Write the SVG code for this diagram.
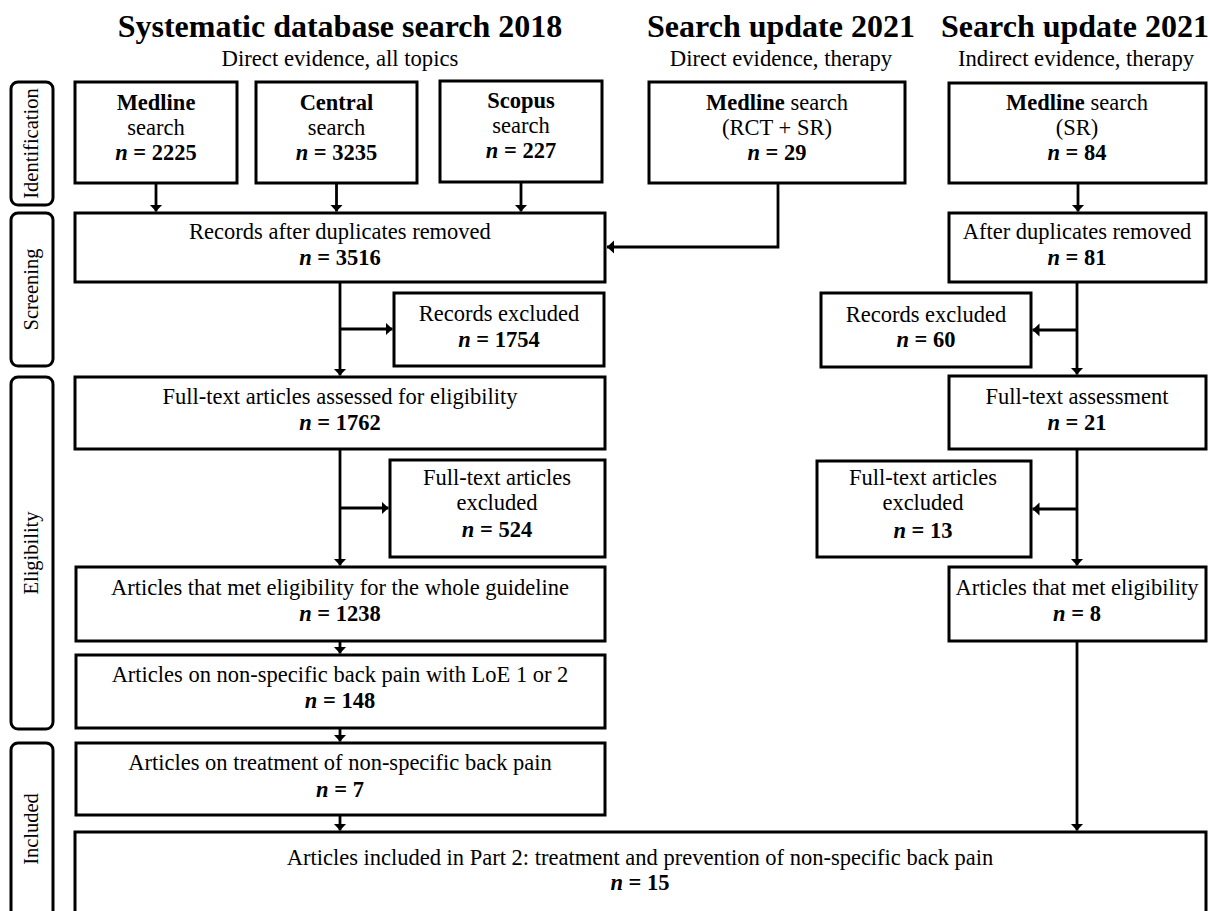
<svg xmlns="http://www.w3.org/2000/svg" width="1210" height="911" viewBox="0 0 1210 911">
<style>
text{font-family:"Liberation Serif","Times New Roman",serif;fill:#000;text-anchor:middle}
.t{font-size:32px;font-weight:bold}
.st{font-size:22.7px}
.b{font-size:22.5px}
.bd{font-weight:bold}
.i{font-style:italic}
.side{font-size:20.5px}
.box{fill:#fff;stroke:#000;stroke-width:3}
.sbox{fill:#fff;stroke:#000;stroke-width:3}
.c{fill:none;stroke:#000;stroke-width:2.8;marker-end:url(#ah)}
</style>
<defs>
<marker id="ah" markerUnits="userSpaceOnUse" markerWidth="8" markerHeight="14" refX="7" refY="6.5" orient="auto">
<path d="M0,0 L7,6.5 L0,13 z" fill="#000"/>
</marker>
</defs>
<rect width="1210" height="911" fill="#fff"/>

<g id="headers">
<text class="t" x="340" y="37">Systematic database search 2018</text>
<text class="st" x="340" y="66">Direct evidence, all topics</text>
<text class="t" x="781" y="37">Search update 2021</text>
<text class="st" x="781" y="66">Direct evidence, therapy</text>
<text class="t" x="1075" y="37">Search update 2021</text>
<text class="st" x="1076" y="66">Indirect evidence, therapy</text>
</g>

<g id="stage-identification">
<rect class="sbox" x="11" y="82" width="42" height="123" rx="7"/>
<text class="side" transform="translate(38,143.5) rotate(-90)">Identification</text>
</g>
<g id="stage-screening">
<rect class="sbox" x="11" y="213" width="42" height="153" rx="7"/>
<text class="side" transform="translate(38,289.5) rotate(-90)">Screening</text>
</g>
<g id="stage-eligibility">
<rect class="sbox" x="11" y="377" width="42" height="352" rx="7"/>
<text class="side" transform="translate(38,553) rotate(-90)">Eligibility</text>
</g>
<g id="stage-included">
<rect class="sbox" x="11" y="743" width="42" height="180" rx="7"/>
<text class="side" transform="translate(38,829) rotate(-90)">Included</text>
</g>

<g id="connectors">
<path class="c" d="M156,183 V211.5"/>
<path class="c" d="M336.5,183 V211.5"/>
<path class="c" d="M521,183 V211.5"/>
<path class="c" d="M778,183 V247 H607"/>
<path class="c" d="M1078,183 V211.5"/>
<path class="c" d="M340,282 V375.5"/>
<path class="c" d="M340,329 H392.5"/>
<path class="c" d="M340,449 V565.5"/>
<path class="c" d="M340,508 H388.5"/>
<path class="c" d="M340,641 V653.5"/>
<path class="c" d="M340,728 V741.5"/>
<path class="c" d="M340,815 V830.5"/>
<path class="c" d="M1077,282 V374.5"/>
<path class="c" d="M1077,330 H1032.5"/>
<path class="c" d="M1077,449 V565.5"/>
<path class="c" d="M1077,509 H1032.5"/>
<path class="c" d="M1077,641 V830.5"/>
</g>

<g id="medline">
<rect class="box" x="75" y="82" width="162" height="101"/>
<text class="b" x="156" y="110"><tspan class="bd">Medline</tspan><tspan x="156" dy="24.5">search</tspan><tspan x="156" dy="25.5" class="bd"><tspan class="i">n</tspan> = 2225</tspan></text>
</g>
<g id="central">
<rect class="box" x="256" y="82" width="161" height="101"/>
<text class="b" x="336.5" y="110"><tspan class="bd">Central</tspan><tspan x="336.5" dy="24.5">search</tspan><tspan x="336.5" dy="25.5" class="bd"><tspan class="i">n</tspan> = 3235</tspan></text>
</g>
<g id="scopus">
<rect class="box" x="440" y="81" width="162" height="101"/>
<text class="b" x="521" y="108"><tspan class="bd">Scopus</tspan><tspan x="521" dy="24.5">search</tspan><tspan x="521" dy="25.5" class="bd"><tspan class="i">n</tspan> = 227</tspan></text>
</g>
<g id="medline-rct-sr">
<rect class="box" x="649" y="82" width="256" height="101"/>
<text class="b" x="777" y="110"><tspan class="bd">Medline</tspan> search<tspan x="777" dy="24.5">(RCT + SR)</tspan><tspan x="777" dy="25.5" class="bd"><tspan class="i">n</tspan> = 29</tspan></text>
</g>
<g id="medline-sr">
<rect class="box" x="949" y="83" width="257" height="100"/>
<text class="b" x="1077" y="110"><tspan class="bd">Medline</tspan> search<tspan x="1077" dy="24.5">(SR)</tspan><tspan x="1077" dy="25.5" class="bd"><tspan class="i">n</tspan> = 84</tspan></text>
</g>

<g id="records-after-duplicates">
<rect class="box" x="75" y="213" width="530" height="69"/>
<text class="b" x="340" y="239">Records after duplicates removed<tspan x="340" dy="26" class="bd"><tspan class="i">n</tspan> = 3516</tspan></text>
</g>
<g id="after-duplicates-right">
<rect class="box" x="949" y="213" width="257" height="69"/>
<text class="b" x="1077" y="239">After duplicates removed<tspan x="1077" dy="26" class="bd"><tspan class="i">n</tspan> = 81</tspan></text>
</g>

<g id="records-excluded-left">
<rect class="box" x="394" y="293" width="210" height="73"/>
<text class="b" x="499" y="321">Records excluded<tspan x="499" dy="26" class="bd"><tspan class="i">n</tspan> = 1754</tspan></text>
</g>
<g id="records-excluded-right">
<rect class="box" x="821" y="293" width="210" height="74"/>
<text class="b" x="926" y="322">Records excluded<tspan x="926" dy="25" class="bd"><tspan class="i">n</tspan> = 60</tspan></text>
</g>

<g id="fulltext-assessed">
<rect class="box" x="75" y="377" width="530" height="72"/>
<text class="b" x="340" y="404">Full-text articles assessed for eligibility<tspan x="340" dy="26" class="bd"><tspan class="i">n</tspan> = 1762</tspan></text>
</g>
<g id="fulltext-assessment-right">
<rect class="box" x="949" y="376" width="257" height="73"/>
<text class="b" x="1077" y="404">Full-text assessment<tspan x="1077" dy="26" class="bd"><tspan class="i">n</tspan> = 21</tspan></text>
</g>

<g id="fulltext-excluded-left">
<rect class="box" x="390" y="460" width="215" height="97"/>
<text class="b" x="497" y="485">Full-text articles<tspan x="497" dy="24.5">excluded</tspan><tspan x="497" dy="27.5" class="bd"><tspan class="i">n</tspan> = 524</tspan></text>
</g>
<g id="fulltext-excluded-right">
<rect class="box" x="817" y="461" width="214" height="96"/>
<text class="b" x="923" y="485">Full-text articles<tspan x="923" dy="24.5">excluded</tspan><tspan x="923" dy="28" class="bd"><tspan class="i">n</tspan> = 13</tspan></text>
</g>

<g id="eligible-whole-guideline">
<rect class="box" x="76" y="567" width="529" height="74"/>
<text class="b" x="340" y="595">Articles that met eligibility for the whole guideline<tspan x="340" dy="26" class="bd"><tspan class="i">n</tspan> = 1238</tspan></text>
</g>
<g id="eligible-right">
<rect class="box" x="949" y="567" width="257" height="74"/>
<text class="b" x="1077" y="595">Articles that met eligibility<tspan x="1077" dy="26" class="bd"><tspan class="i">n</tspan> = 8</tspan></text>
</g>

<g id="loe-articles">
<rect class="box" x="76" y="655" width="529" height="73"/>
<text class="b" x="340" y="682">Articles on non-specific back pain with LoE 1 or 2<tspan x="340" dy="26" class="bd"><tspan class="i">n</tspan> = 148</tspan></text>
</g>
<g id="treatment-articles">
<rect class="box" x="76" y="743" width="529" height="72"/>
<text class="b" x="340" y="770">Articles on treatment of non-specific back pain<tspan x="340" dy="27" class="bd"><tspan class="i">n</tspan> = 7</tspan></text>
</g>

<g id="included-part2">
<rect class="box" x="75" y="832" width="1131" height="100"/>
<text class="b" x="640" y="865">Articles included in Part 2: treatment and prevention of non-specific back pain<tspan x="640" dy="25" class="bd"><tspan class="i">n</tspan> = 15</tspan></text>
</g>
</svg>
